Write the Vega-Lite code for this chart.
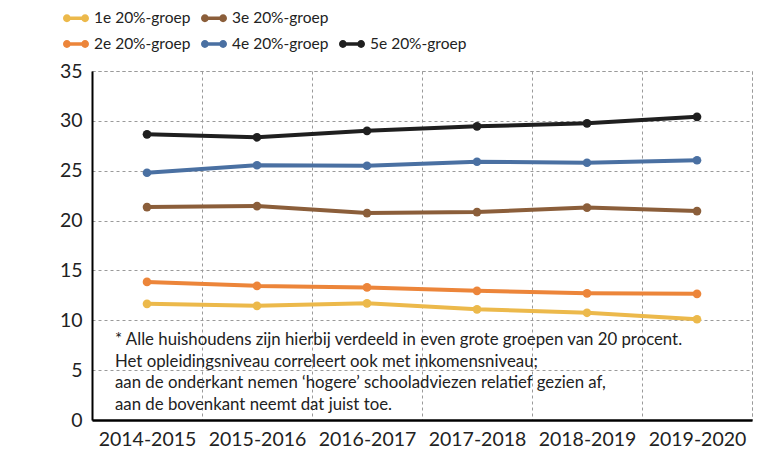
{
  "$schema": "https://vega.github.io/schema/vega-lite/v6.json",
  "autosize": {"type": "none"},
  "width": 660,
  "height": 349,
  "padding": {"left": 92, "top": 71, "right": 32, "bottom": 33},
  "background": "white",
  "config": {
    "view": {"stroke": "#9a9a9a", "strokeDash": [3, 3], "strokeWidth": 1},
    "font": "Lato"
  },
  "layer": [
    {
      "data": {
        "values": [
          {"jaar": "2014-2015", "groep": "1e 20%-groep", "waarde": 11.65},
          {"jaar": "2015-2016", "groep": "1e 20%-groep", "waarde": 11.45},
          {"jaar": "2016-2017", "groep": "1e 20%-groep", "waarde": 11.7},
          {"jaar": "2017-2018", "groep": "1e 20%-groep", "waarde": 11.1},
          {"jaar": "2018-2019", "groep": "1e 20%-groep", "waarde": 10.75},
          {"jaar": "2019-2020", "groep": "1e 20%-groep", "waarde": 10.1},
          {"jaar": "2014-2015", "groep": "2e 20%-groep", "waarde": 13.85},
          {"jaar": "2015-2016", "groep": "2e 20%-groep", "waarde": 13.45},
          {"jaar": "2016-2017", "groep": "2e 20%-groep", "waarde": 13.3},
          {"jaar": "2017-2018", "groep": "2e 20%-groep", "waarde": 12.95},
          {"jaar": "2018-2019", "groep": "2e 20%-groep", "waarde": 12.7},
          {"jaar": "2019-2020", "groep": "2e 20%-groep", "waarde": 12.65},
          {"jaar": "2014-2015", "groep": "3e 20%-groep", "waarde": 21.35},
          {"jaar": "2015-2016", "groep": "3e 20%-groep", "waarde": 21.45},
          {"jaar": "2016-2017", "groep": "3e 20%-groep", "waarde": 20.75},
          {"jaar": "2017-2018", "groep": "3e 20%-groep", "waarde": 20.85},
          {"jaar": "2018-2019", "groep": "3e 20%-groep", "waarde": 21.3},
          {"jaar": "2019-2020", "groep": "3e 20%-groep", "waarde": 20.95},
          {"jaar": "2014-2015", "groep": "4e 20%-groep", "waarde": 24.8},
          {"jaar": "2015-2016", "groep": "4e 20%-groep", "waarde": 25.55},
          {"jaar": "2016-2017", "groep": "4e 20%-groep", "waarde": 25.5},
          {"jaar": "2017-2018", "groep": "4e 20%-groep", "waarde": 25.9},
          {"jaar": "2018-2019", "groep": "4e 20%-groep", "waarde": 25.8},
          {"jaar": "2019-2020", "groep": "4e 20%-groep", "waarde": 26.05},
          {"jaar": "2014-2015", "groep": "5e 20%-groep", "waarde": 28.65},
          {"jaar": "2015-2016", "groep": "5e 20%-groep", "waarde": 28.35},
          {"jaar": "2016-2017", "groep": "5e 20%-groep", "waarde": 29.0},
          {"jaar": "2017-2018", "groep": "5e 20%-groep", "waarde": 29.45},
          {"jaar": "2018-2019", "groep": "5e 20%-groep", "waarde": 29.75},
          {"jaar": "2019-2020", "groep": "5e 20%-groep", "waarde": 30.4}
        ]
      },
      "encoding": {
        "x": {
          "field": "jaar",
          "type": "nominal",
          "sort": null,
          "scale": {"paddingInner": 0, "paddingOuter": 0},
          "axis": {
            "title": null,
            "labelAngle": 0,
            "labelFont": "Lato",
            "labelFontSize": 19.5,
            "labelColor": "#222222",
            "labelPadding": 10,
            "ticks": false,
            "tickBand": "extent",
            "domainColor": "#000000",
            "domainWidth": 2.5,
            "grid": true,
            "gridColor": "#9a9a9a",
            "gridDash": [3, 3],
            "gridWidth": 1
          }
        },
        "y": {
          "field": "waarde",
          "type": "quantitative",
          "scale": {"domain": [0, 35], "nice": false, "zero": true},
          "axis": {
            "title": null,
            "values": [0, 5, 10, 15, 20, 25, 30, 35],
            "labelFont": "Lato",
            "labelFontSize": 19.5,
            "labelColor": "#222222",
            "labelPadding": 10,
            "ticks": false,
            "domainColor": "#000000",
            "domainWidth": 2,
            "grid": true,
            "gridColor": "#9a9a9a",
            "gridDash": [3, 3],
            "gridWidth": 1
          }
        },
        "color": {
          "field": "groep",
          "type": "nominal",
          "scale": {
            "domain": ["1e 20%-groep", "2e 20%-groep", "3e 20%-groep", "4e 20%-groep", " ", "5e 20%-groep"],
            "range": ["#ECB94B", "#EC853A", "#8B5E3A", "#4A70A2", "transparent", "#1F1F1F"]
          },
          "legend": {
            "title": null,
            "orient": "none",
            "legendX": -29,
            "legendY": -66,
            "columns": 3,
            "columnPadding": 9,
            "rowPadding": 4,
            "padding": 0,
            "symbolType": "M-0.7,-0.14H0.7V0.14H-0.7Z M-1,0A0.3,0.3 0 1,1 -0.4,0A0.3,0.3 0 1,1 -1,0Z M0.4,0A0.3,0.3 0 1,1 1,0A0.3,0.3 0 1,1 0.4,0Z",
            "symbolSize": 676,
            "symbolStrokeWidth": 0,
            "labelFont": "Lato",
            "labelFontSize": 15.5,
            "labelColor": "#222222",
            "labelOffset": 5,
            "labelLimit": 0,
            "encode": {
              "symbols": {
                "update": {
                  "fill": {"scale": "color", "field": "value"},
                  "stroke": {"value": "transparent"},
                  "opacity": {"value": 1}
                }
              }
            }
          }
        }
      },
      "layer": [
        {"mark": {"type": "line", "strokeWidth": 4, "strokeCap": "round"}},
        {"mark": {"type": "point", "filled": true, "shape": "circle", "size": 75, "opacity": 1}}
      ]
    },
    {
      "data": {
        "values": [
          {"noot": "* Alle huishoudens zijn hierbij verdeeld in even grote groepen van 20 procent.\nHet opleidingsniveau correleert ook met inkomensniveau;\naan de onderkant nemen ‘hogere’ schooladviezen relatief gezien af,\naan de bovenkant neemt dat juist toe."}
        ]
      },
      "mark": {
        "type": "text",
        "align": "left",
        "baseline": "alphabetic",
        "lineBreak": "\n",
        "lineHeight": 21.5,
        "font": "Lato",
        "fontSize": 16.8,
        "color": "#222222",
        "dx": -32
      },
      "encoding": {
        "x": {"datum": "2014-2015"},
        "y": {"datum": 7.52},
        "text": {"field": "noot"}
      }
    }
  ]
}
